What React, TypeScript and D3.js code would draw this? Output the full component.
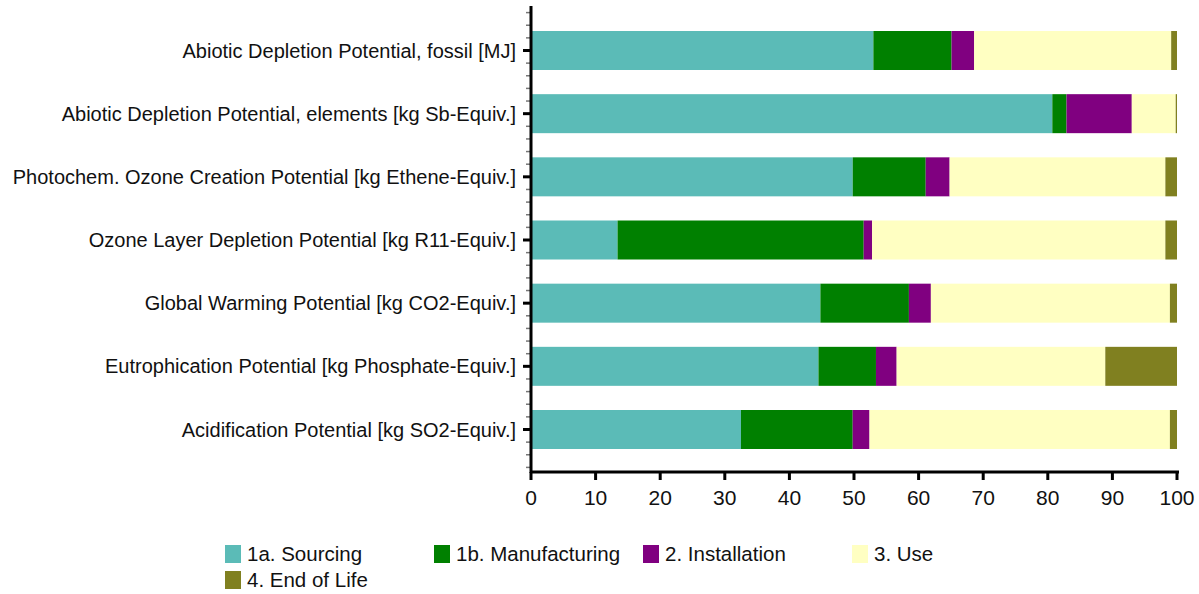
import React from "react";
import * as d3 from "d3";

const categories = [
  "Abiotic Depletion Potential, fossil [MJ]",
  "Abiotic Depletion Potential, elements [kg Sb-Equiv.]",
  "Photochem. Ozone Creation Potential [kg Ethene-Equiv.]",
  "Ozone Layer Depletion Potential [kg R11-Equiv.]",
  "Global Warming Potential [kg CO2-Equiv.]",
  "Eutrophication Potential [kg Phosphate-Equiv.]",
  "Acidification Potential [kg SO2-Equiv.]",
];

const seriesNames = ["1a. Sourcing", "1b. Manufacturing", "2. Installation", "3. Use", "4. End of Life"];
const sourcing = [53.0, 80.7, 49.8, 13.4, 44.8, 44.5, 32.5];
const manufacturing = [12.1, 2.2, 11.3, 38.1, 13.7, 8.9, 17.3];
const installation = [3.5, 10.1, 3.7, 1.3, 3.4, 3.2, 2.6];
const use = [30.5, 6.8, 33.4, 45.4, 37.0, 32.3, 46.5];
const endOfLife = [0.9, 0.2, 1.8, 1.8, 1.1, 11.1, 1.1];
const colors = ["#5bbbb7", "#008000", "#800080", "#ffffc2", "#808020"];
const xTicks = [0, 10, 20, 30, 40, 50, 60, 70, 80, 90, 100];

const seriesValues = [sourcing, manufacturing, installation, use, endOfLife];

export default function App() {
  const W = 1199, H = 594;
  const x = d3.scaleLinear().domain([0, 100]).range([531, 1177]);
  const y = d3.scalePoint<string>().domain(categories).range([50.5, 429.5]);
  const step = y.step();
  const barH = 39;
  const axisTop = 6, axisBottom = 472;
  const font = "'Liberation Sans', Arial, sans-serif";

  const rows = categories.map((c, i) => {
    const r: any = { cat: c };
    seriesNames.forEach((s, j) => (r[s] = seriesValues[j][i]));
    return r;
  });
  const stacked = d3.stack().keys(seriesNames)(rows);

  const y0 = y(categories[0]) as number;
  const minor: number[] = [];
  const ms = step / 5;
  for (let k = -3; ; k++) {
    const yy = y0 + k * ms;
    if (yy > axisBottom - 2) break;
    if (k % 5 !== 0) minor.push(yy);
  }

  const legendItems = [
    { x: 225, y: 545 },
    { x: 434, y: 545 },
    { x: 643, y: 545 },
    { x: 852, y: 545 },
    { x: 225, y: 571 },
  ];

  return (
    <svg width={W} height={H} style={{ position: "absolute", left: 0, top: 0, background: "#fff" }}>
      {stacked.map((layer, j) => (
        <g key={j} fill={colors[j]}>
          {layer.map((d, i) => (
            <rect
              key={i}
              x={x(d[0])}
              y={(y(categories[i]) as number) - barH / 2}
              width={Math.max(0, x(d[1]) - x(d[0]))}
              height={barH}
            />
          ))}
        </g>
      ))}
      {minor.map((yy, i) => (
        <line key={i} x1={526} x2={531} y1={yy} y2={yy} stroke="#777" strokeWidth={1.5} />
      ))}
      {categories.map((c) => (
        <line key={c} x1={523} x2={531} y1={y(c)} y2={y(c)} stroke="#000" strokeWidth={3} />
      ))}
      <line x1={531} x2={531} y1={axisTop} y2={axisBottom + 1} stroke="#000" strokeWidth={3} />
      <line x1={530} x2={1179} y1={axisBottom} y2={axisBottom} stroke="#000" strokeWidth={3} />
      {xTicks.map((t) => (
        <g key={t}>
          <line x1={x(t)} x2={x(t)} y1={axisBottom} y2={axisBottom + 8} stroke="#000" strokeWidth={3} />
          <text x={x(t)} y={505} textAnchor="middle" fontFamily={font} fontSize={21} fill="#111">
            {t}
          </text>
        </g>
      ))}
      {categories.map((c) => (
        <text key={c} x={516} y={(y(c) as number) + 7} textAnchor="end" fontFamily={font} fontSize={20} fill="#111">
          {c}
        </text>
      ))}
      {seriesNames.map((s, j) => (
        <g key={s}>
          <rect x={legendItems[j].x} y={legendItems[j].y} width={16} height={18} fill={colors[j]} />
          <text x={legendItems[j].x + 22} y={legendItems[j].y + 16} fontFamily={font} fontSize={20.5} fill="#111">
            {s}
          </text>
        </g>
      ))}
    </svg>
  );
}
